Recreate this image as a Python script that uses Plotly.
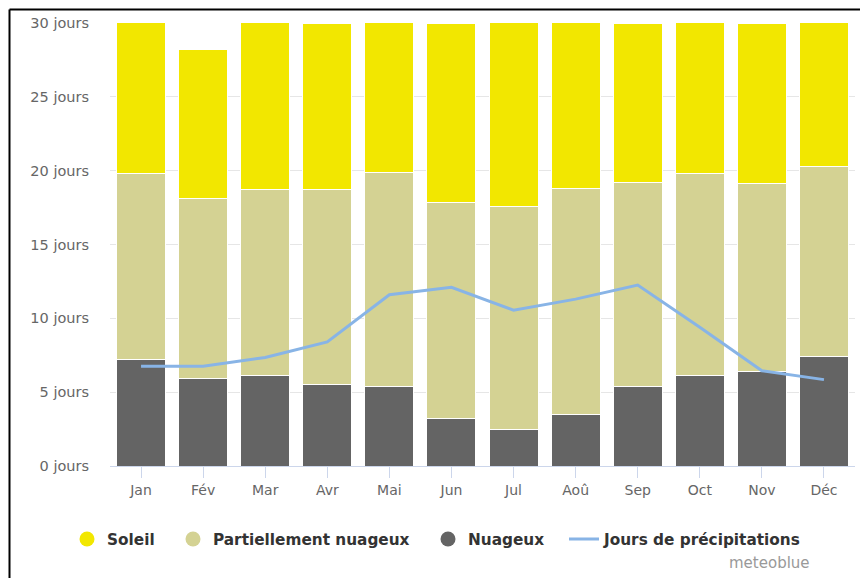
import plotly.graph_objects as go

# Monthly cloud-cover statistics (average number of days)
mois = ["Jan", "Fév", "Mar", "Avr", "Mai", "Jun", "Jul", "Aoû", "Sep", "Oct", "Nov", "Déc"]
nuageux = [7.2, 5.9, 6.1, 5.5, 5.4, 3.2, 2.5, 3.5, 5.4, 6.1, 6.4, 7.4]
partiellement = [12.6, 12.2, 12.6, 13.2, 14.5, 14.65, 15.05, 15.3, 13.8, 13.7, 12.7, 12.85]
soleil = [11.2, 10.1, 12.3, 11.3, 11.1, 12.15, 13.45, 12.2, 10.8, 11.2, 10.9, 10.75]
precipitations = [6.75, 6.75, 7.35, 8.4, 11.6, 12.1, 10.55, 11.3, 12.25, 9.4, 6.45, 5.85]
y_ticks = [0, 5, 10, 15, 20, 25, 30]
y_labels = [f"{v} jours" for v in y_ticks]

C_SOLEIL = "#f2e700"
C_PARTIEL = "#d4d293"
C_NUAGEUX = "#646464"
C_PRECIP = "#88b4e6"

FONT = "DejaVu Sans"

fig = go.Figure()

bar_line = dict(color="white", width=1)
for name, vals, col in [
    ("Nuageux", nuageux, C_NUAGEUX),
    ("Partiellement nuageux", partiellement, C_PARTIEL),
    ("Soleil", soleil, C_SOLEIL),
]:
    fig.add_trace(go.Bar(
        x=mois, y=vals, name=name, marker=dict(color=col, line=bar_line),
        width=0.79, showlegend=False,
    ))

fig.add_trace(go.Scatter(
    x=mois, y=precipitations, mode="lines", name="Jours de précipitations",
    line=dict(color=C_PRECIP, width=3), showlegend=False,
))

# Legend entries, each in its own legend box so the spacing can be set
entries = [
    ("Soleil", dict(mode="markers", marker=dict(color=C_SOLEIL, size=15)), "legend", 67),
    ("Partiellement nuageux", dict(mode="markers", marker=dict(color=C_PARTIEL, size=15)), "legend2", 173),
    ("Nuageux", dict(mode="markers", marker=dict(color=C_NUAGEUX, size=15)), "legend3", 428),
    ("Jours de précipitations", dict(mode="lines", line=dict(color=C_PRECIP, width=3)), "legend4", 564),
]
for name, style, lg, _ in entries:
    fig.add_trace(go.Scatter(x=[None], y=[None], name=name, legend=lg, **style))

W, H = 860, 578
L, R, T, B = 110, 5, 23, 112
pw, ph = W - L - R, H - T - B

legend_font = dict(family=FONT, size=15.3, color="#333333", weight="bold")
legend_layouts = {}
for name, style, lg, left_px in entries:
    legend_layouts[lg] = dict(
        orientation="h", xref="container", yref="container",
        x=left_px / W, xanchor="left", y=1 - 539 / H, yanchor="middle",
        font=legend_font, itemwidth=30,
        bgcolor="rgba(0,0,0,0)",
    )

fig.update_layout(
    width=W, height=H,
    margin=dict(l=L, r=R, t=T, b=B),
    barmode="stack",
    bargap=0.21,
    paper_bgcolor="white",
    plot_bgcolor="white",
    font=dict(family=FONT, color="#666666", size=14),
    xaxis=dict(
        type="category", showgrid=False, zeroline=False,
        showline=True, linecolor="#ccd6eb", linewidth=1,
        ticks="outside", ticklen=11, tickcolor="#ccd6eb",
        tickfont=dict(size=14, color="#666666"),
        fixedrange=True,
    ),
    yaxis=dict(
        range=[0, 30], tickvals=y_ticks, ticktext=y_labels,
        showgrid=True, gridcolor="#e6e6e6", gridwidth=1,
        zeroline=False, showline=False,
        ticklabelstandoff=20,
        tickfont=dict(size=14.5, color="#666666"),
        fixedrange=True,
    ),
    showlegend=True,
    **legend_layouts,
)

# Frame around the chart (left and top edges, running off the page)
bx = (9.5 - L) / pw
by = (H - B - 9.5) / ph
x_end = (W - L) / pw
y_end = -B / ph
fig.add_shape(type="line", xref="paper", yref="paper",
              x0=bx, x1=bx, y0=by, y1=y_end, line=dict(color="black", width=2))
fig.add_shape(type="line", xref="paper", yref="paper",
              x0=bx, x1=x_end, y0=by, y1=by, line=dict(color="black", width=2))

fig.add_annotation(
    text="meteoblue", xref="paper", yref="paper",
    x=(812 - L) / pw, xanchor="right",
    y=(H - B - 563) / ph, yanchor="middle",
    showarrow=False, font=dict(family=FONT, size=15, color="#999999"),
)

fig.write_html(
    "out.html",
    config={"displayModeBar": False},
    post_script="document.documentElement.style.overflow='hidden';"
                "document.body.style.overflow='hidden';document.body.style.margin='0';",
)
